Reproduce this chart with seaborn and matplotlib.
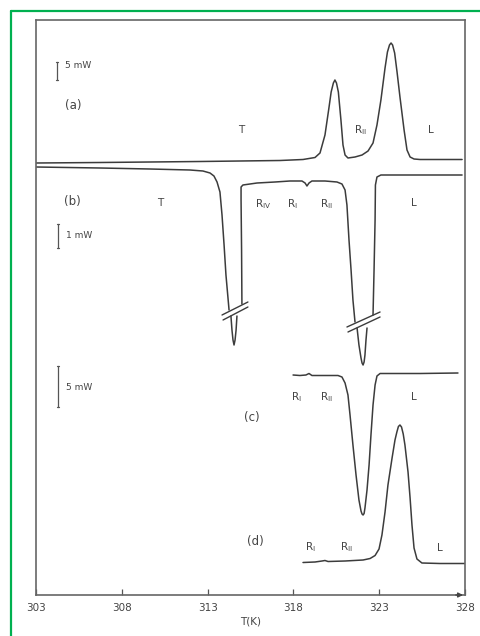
import matplotlib
matplotlib.use("Agg")
import matplotlib.pyplot as plt
import pandas as pd
import seaborn as sns
from matplotlib.lines import Line2D

# ---------------- data (T in K, signal in arbitrary display units) ----------------
temp_a = [303.00, 306.73, 312.56, 317.22, 318.56, 319.26, 319.55, 319.84, 320.07, 320.20,
          320.33, 320.42, 320.51, 320.62, 320.77, 320.89, 321.01, 321.18, 321.59, 322.00,
          322.35, 322.64, 322.87, 323.10, 323.34, 323.48, 323.60, 323.69, 323.78, 323.90,
          324.04, 324.21, 324.45, 324.62, 324.80, 325.03, 325.38, 327.83]
sig_a = [432, 432.5, 433.5, 434.5, 435.5, 437.5, 442, 460, 487, 503,
         512, 515, 512, 503, 475, 450, 440, 437, 438, 440,
         444, 452, 470, 495, 527, 543, 550, 552, 550, 542,
         523, 498, 465, 445, 438, 436, 435.5, 435.5]

# curve (b) split at the axis-break marks
temp_b1 = [303.00, 306.73, 309.64, 311.97, 312.73, 313.14, 313.37, 313.55, 313.72, 313.84,
           313.96, 314.07, 314.25]
sig_b1 = [428, 427, 426, 425, 424, 422, 419, 413, 403, 380, 350, 320, 285]
temp_b2 = [314.36, 314.42, 314.48, 314.54, 314.60, 314.66, 314.71]
sig_b2 = [279, 265, 255, 250, 255, 265, 279]
temp_b3 = [315.00, 314.98, 314.95, 314.95, 315.06, 315.88, 316.93, 317.80, 318.50, 318.68,
           318.79, 318.91, 319.08, 319.84, 320.54, 320.83, 321.01, 321.12, 321.24, 321.36,
           321.47, 321.59]
sig_b3 = [291, 345, 395, 408, 410, 412, 413, 414, 414, 412,
          409, 412, 414, 414, 413, 411, 405, 390, 355, 325,
          295, 273]
temp_b4 = [321.71, 321.82, 321.94, 322.00, 322.06, 322.12, 322.17, 322.23, 322.29]
sig_b4 = [267, 250, 237, 232, 230, 233, 240, 255, 267]
temp_b5 = [322.64, 322.70, 322.76, 322.78, 322.87, 323.10, 325.38, 327.83]
sig_b5 = [280, 325, 375, 410, 418, 420, 420, 420]

temp_c = [317.98, 318.38, 318.73, 318.91, 319.08, 319.55, 320.60, 320.83, 321.01, 321.18,
          321.30, 321.47, 321.65, 321.82, 321.94, 322.00, 322.06, 322.12, 322.17, 322.29,
          322.41, 322.52, 322.64, 322.76, 322.87, 323.05, 325.38, 327.59]
sig_c = [220, 219.5, 220, 221.5, 219.5, 219.5, 219.5, 218, 212, 200,
         180, 150, 120, 95, 84, 81, 80, 81.5, 87, 105,
         130, 160, 190, 210, 219, 221.5, 221.5, 222]

temp_d = [318.56, 319.26, 319.67, 319.84, 320.02, 321.01, 322.06, 322.47, 322.76, 322.99,
          323.16, 323.34, 323.51, 323.75, 323.92, 324.03, 324.12, 324.21, 324.30, 324.40,
          324.50, 324.68, 324.80, 324.91, 325.03, 325.20, 325.49, 326.54, 328.00]
sig_d = [32.5, 33, 34, 34.5, 33.5, 34, 35, 36.5, 39.5, 46,
         60, 83, 110, 137, 155, 163, 168.5, 170, 168, 161,
         150, 123, 97, 70, 47, 36, 32, 31.5, 31.5]

x_ticks = [303, 308, 313, 318, 323, 328]
x_label = "T(K)"

# ---------------- assemble ----------------
segments = [("a", temp_a, sig_a), ("b1", temp_b1, sig_b1), ("b2", temp_b2, sig_b2),
            ("b3", temp_b3, sig_b3), ("b4", temp_b4, sig_b4), ("b5", temp_b5, sig_b5),
            ("c", temp_c, sig_c), ("d", temp_d, sig_d)]
rows = []
for name, ts, ss in segments:
    for i, (t, s) in enumerate(zip(ts, ss)):
        rows.append({"seg": name, "order": i, "T": t, "signal": s})
df = pd.DataFrame(rows)

sns.set_theme(style="white")
plt.rcParams["font.family"] = ["DejaVu Sans"]

INK = "#3c3c3c"
fig = plt.figure(figsize=(4.81, 6.36), dpi=100)
ax = fig.add_axes([36 / 481, 41 / 636, 429 / 481, 575 / 636])

sns.lineplot(data=df, x="T", y="signal", units="seg", estimator=None, sort=False,
             color=INK, linewidth=1.1, ax=ax, legend=False)

ax.set_xlim(303, 328)
ax.set_ylim(0, 575)
ax.set_yticks([])
ax.set_xticks(x_ticks)
ax.set_xticklabels([str(t) for t in x_ticks], fontsize=7.5, color="#444444")
ax.tick_params(axis="x", direction="in", length=4, width=0.9, color="#555555",
               bottom=True, pad=6)
ax.set_xlabel(x_label, fontsize=7.5, color="#444444", labelpad=2)
ax.set_ylabel("")
for sp in ax.spines.values():
    sp.set_color("#666666")
    sp.set_linewidth(1.2)

# arrow at the end of the temperature axis
ax.annotate("", xy=(328.05, 0), xytext=(327.3, 0),
            arrowprops=dict(arrowstyle="-|>", color="#444444", lw=1.0,
                            mutation_scale=7), annotation_clip=False)

# axis-break marks on curve (b)
breaks = [((313.84, 280), (315.35, 293)), ((313.90, 275), (315.35, 288)),
          ((321.12, 268), (323.05, 283)), ((321.18, 263), (323.05, 278))]
for (x0, y0), (x1, y1) in breaks:
    ax.plot([x0, x1], [y0, y1], color=INK, lw=1.0)

# scale bars
bars = [(304.22, 515, 533, "5 mW", 530), (304.28, 347, 371, "1 mW", 359),
        (304.28, 188, 229, "5 mW", 207)]
for x, y0, y1, lab, ty in bars:
    ax.plot([x, x], [y0, y1], color="#555555", lw=0.9)
    ax.plot([x - 0.08, x + 0.08], [y0, y0], color="#555555", lw=0.9)
    ax.plot([x - 0.08, x + 0.08], [y1, y1], color="#555555", lw=0.9)
    ax.text(x + 0.45, ty, lab, fontsize=6.5, color="#444444", va="center", ha="left")

RI = r"R$_{\mathrm{I}}$"
RII = r"R$_{\mathrm{II}}$"
RIV = r"R$_{\mathrm{IV}}$"
labels = [
    ("(a)", 305.16, 490), ("T", 314.95, 465), (RII, 321.88, 465), ("L", 326.02, 465),
    ("(b)", 305.10, 393), ("T", 310.23, 392), (RIV, 316.23, 391), (RI, 317.92, 391),
    (RII, 319.90, 391), ("L", 325.03, 392),
    (RI, 318.15, 198), (RII, 319.90, 198), ("(c)", 315.59, 177), ("L", 325.03, 198),
    ("(d)", 315.76, 54), (RI, 318.97, 48), (RII, 321.12, 48), ("L", 326.54, 47),
]
for s, x, y in labels:
    fs = 8.5 if s.startswith("(") else 7.5
    ax.text(x, y, s, fontsize=fs, color="#444444", ha="center", va="center")

# green frame of the figure
fig.add_artist(Line2D([11 / 481, 11 / 481], [0, 1 - 11 / 636], transform=fig.transFigure,
                      color="#00b050", lw=1.6))
fig.add_artist(Line2D([11 / 481, 1], [1 - 11 / 636, 1 - 11 / 636], transform=fig.transFigure,
                      color="#00b050", lw=1.6))

fig.savefig("out.png", dpi=100)
